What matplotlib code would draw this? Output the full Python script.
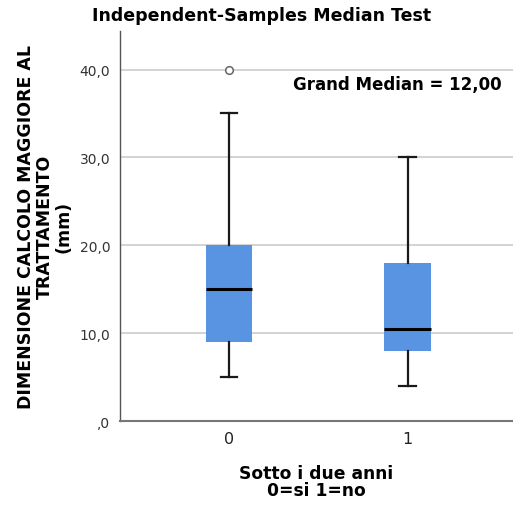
import matplotlib
matplotlib.use("Agg")
import matplotlib.pyplot as plt

# ── data ──────────────────────────────────────────────────────────────────────
groups = ["0", "1"]
whisker_low = [5.0, 4.0]
q1 = [9.0, 8.0]
median = [15.0, 10.5]
q3 = [20.0, 18.0]
whisker_high = [35.0, 30.0]
outliers = [[40.0], []]
grand_median = 12.0

y_ticks = [0, 10, 20, 30, 40]
y_ticklabels = [",0", "10,0", "20,0", "30,0", "40,0"]

BOX_COLOR = "#5894e2"

stats = []
for i, g in enumerate(groups):
    stats.append(dict(label=g, whislo=whisker_low[i], q1=q1[i], med=median[i],
                      q3=q3[i], whishi=whisker_high[i], fliers=outliers[i]))

fig = plt.figure(figsize=(5.13, 5.06), dpi=100)
ax = fig.add_axes([0.234, 0.166, 0.766, 0.771])

ax.bxp(stats, positions=range(len(groups)), widths=0.26, patch_artist=True,
       boxprops=dict(facecolor=BOX_COLOR, edgecolor=BOX_COLOR, linewidth=0),
       medianprops=dict(color="black", linewidth=2.2),
       whiskerprops=dict(color="#1a1a1a", linewidth=1.6),
       capprops=dict(color="#1a1a1a", linewidth=1.6),
       capwidths=0.13 * 0.7,
       flierprops=dict(marker="o", markerfacecolor="white", markeredgecolor="#666666",
                       markersize=5.5, markeredgewidth=1.1))

ax.set_xlim(-0.61, 1.59)
ax.set_ylim(0, 44.4)
ax.set_yticks(y_ticks)
ax.set_yticklabels(y_ticklabels, fontsize=10, color="#333333")
ax.set_xticks(range(len(groups)))
ax.set_xticklabels(groups, fontsize=11.5, color="#222222")
ax.tick_params(axis="y", length=0, pad=7)
ax.tick_params(axis="x", length=0, pad=7)

ax.yaxis.grid(True, color="#cccccc", linewidth=1.2)
ax.set_axisbelow(True)
for s in ["top", "right"]:
    ax.spines[s].set_visible(False)
ax.spines["left"].set_color("#555555")
ax.spines["bottom"].set_color("#777777")
ax.spines["left"].set_linewidth(1.0)
ax.spines["bottom"].set_linewidth(1.5)

ax.set_ylabel("DIMENSIONE CALCOLO MAGGIORE AL\nTRATTAMENTO\n(mm)",
              fontsize=12.5, fontweight="bold", linespacing=1.05, labelpad=5)
ax.set_xlabel("Sotto i due anni\n0=si 1=no", fontsize=12.3, fontweight="bold",
              linespacing=0.95, labelpad=13)

ax.text(0.972, 0.865, f"Grand Median = {grand_median:.2f}".replace(".", ","),
        transform=ax.transAxes, ha="right", va="center", fontsize=12, fontweight="bold")

fig.text(0.509, 0.968, "Independent-Samples Median Test", ha="center", va="center",
         fontsize=12.5, fontweight="bold")

fig.savefig("out.png", dpi=100, facecolor="white")
